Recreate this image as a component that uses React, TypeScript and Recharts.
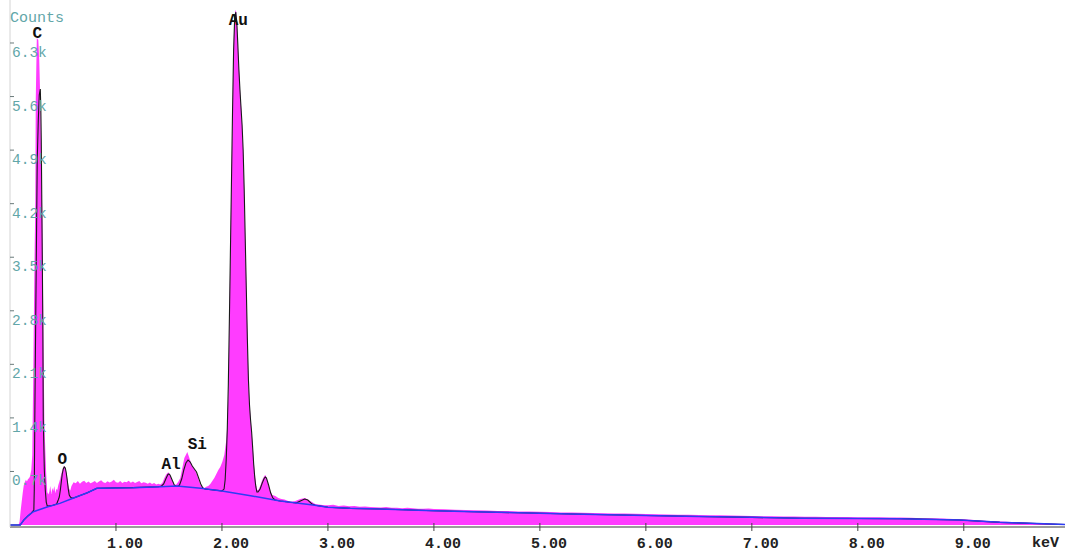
import React from 'react';
import { ComposedChart, Area, Line, XAxis, YAxis, ReferenceDot } from 'recharts';

// Raw spectrum (pink), [keV, counts]
const rawSpectrum: number[][] = [
  [0, 0], [0.08, 0], [0.09, 40], [0.1, 180], [0.11, 300], [0.12, 420], [0.13, 520], [0.14, 560],
  [0.15, 590], [0.16, 570], [0.17, 600], [0.18, 610], [0.19, 640], [0.201, 719], [0.21, 915],
  [0.22, 2026], [0.229, 3202], [0.239, 4248], [0.243, 5555], [0.253, 6365], [0.267, 6339],
  [0.276, 6078], [0.286, 5555], [0.295, 4771], [0.305, 3986], [0.314, 2679], [0.324, 1372],
  [0.333, 980], [0.342, 654], [0.352, 430], [0.361, 400], [0.371, 431], [0.38, 510], [0.39, 405],
  [0.399, 484], [0.408, 444], [0.418, 510], [0.427, 418], [0.437, 470], [0.446, 457], [0.456, 523],
  [0.465, 562], [0.475, 614], [0.484, 667], [0.493, 719], [0.503, 758], [0.512, 771], [0.522, 745],
  [0.531, 693], [0.541, 614], [0.55, 523], [0.559, 470], [0.569, 450], [0.58, 510], [0.6, 560],
  [0.62, 545], [0.64, 575], [0.66, 540], [0.68, 565], [0.7, 580], [0.72, 550], [0.74, 570],
  [0.76, 545], [0.78, 560], [0.8, 575], [0.82, 550], [0.84, 570], [0.86, 585], [0.88, 560],
  [0.9, 548], [0.92, 572], [0.94, 555], [0.96, 568], [0.98, 590], [1.0, 560], [1.02, 552],
  [1.04, 575], [1.06, 548], [1.08, 566], [1.1, 558], [1.12, 580], [1.14, 552], [1.16, 570],
  [1.18, 548], [1.2, 562], [1.22, 575], [1.24, 545], [1.26, 560], [1.28, 552], [1.3, 540],
  [1.32, 556], [1.34, 535], [1.36, 548], [1.38, 528], [1.4, 540], [1.418, 530], [1.437, 550],
  [1.456, 610], [1.474, 660], [1.494, 690], [1.513, 645], [1.531, 575], [1.55, 525], [1.569, 530],
  [1.588, 565], [1.607, 614], [1.626, 745], [1.645, 876], [1.664, 928], [1.673, 954], [1.683, 915],
  [1.702, 836], [1.72, 771], [1.739, 732], [1.758, 680], [1.777, 601], [1.796, 530], [1.815, 495],
  [1.834, 485], [1.852, 500], [1.871, 510], [1.89, 536], [1.909, 575], [1.928, 614], [1.947, 667],
  [1.966, 719], [1.984, 758], [2.003, 823], [2.022, 915], [2.041, 1111], [2.05, 1307], [2.06, 1699],
  [2.069, 2549], [2.079, 3594], [2.088, 4378], [2.098, 5163], [2.107, 6078], [2.116, 6574],
  [2.126, 6731], [2.135, 6705], [2.145, 6470], [2.154, 6143], [2.164, 5882], [2.173, 5620],
  [2.183, 5424], [2.192, 5163], [2.202, 4836], [2.211, 4313], [2.221, 3660], [2.23, 3137],
  [2.239, 2549], [2.249, 1961], [2.258, 1634], [2.268, 1438], [2.277, 1268], [2.286, 1111],
  [2.296, 915], [2.305, 745], [2.315, 614], [2.324, 510], [2.333, 457], [2.343, 457], [2.361, 510],
  [2.38, 588], [2.4, 640], [2.409, 654], [2.418, 627], [2.437, 536], [2.456, 444], [2.475, 392],
  [2.504, 379], [2.532, 353], [2.561, 340], [2.59, 335], [2.62, 318], [2.645, 300], [2.692, 314],
  [2.739, 340], [2.785, 353], [2.833, 314], [2.88, 274], [2.927, 265], [2.975, 258],
  [3.0, 258], [3.05, 264], [3.1, 250], [3.15, 254], [3.2, 245], [3.25, 249], [3.3, 238], [3.35, 243],
  [3.4, 236], [3.45, 233], [3.5, 230], [3.55, 234], [3.6, 227], [3.65, 225], [3.7, 220], [3.75, 224],
  [3.8, 219], [3.85, 214], [3.9, 212], [3.95, 215], [4.0, 208], [4.1, 205], [4.2, 199], [4.3, 197],
  [4.4, 192], [4.5, 190], [4.6, 184], [4.7, 183], [4.8, 178], [4.9, 176], [5.0, 172], [5.1, 170],
  [5.2, 165], [5.3, 164], [5.4, 160], [5.5, 157], [5.6, 155], [5.7, 151], [5.8, 150], [5.9, 146],
  [6.0, 144], [6.1, 140], [6.2, 139], [6.3, 135], [6.4, 134], [6.5, 130], [6.6, 128], [6.7, 126],
  [6.8, 123], [6.9, 121], [7.0, 118], [7.1, 116], [7.2, 114], [7.3, 112], [7.4, 110], [7.5, 108],
  [7.6, 107], [7.7, 106], [7.8, 106], [7.9, 104], [8.0, 103], [8.1, 102], [8.2, 101], [8.3, 99],
  [8.4, 97], [8.5, 94], [8.6, 90], [8.7, 87], [8.8, 84], [8.9, 80], [9.0, 74], [9.1, 66], [9.2, 57],
  [9.3, 48], [9.4, 41], [9.5, 35], [9.6, 28], [9.7, 22], [9.8, 17], [9.9, 12], [9.955, 8],
];

// Fitted spectrum (black), [keV, counts]
const fitSpectrum: number[][] = [
  [0, 0], [0.097, 0], [0.13, 65], [0.17, 120], [0.2, 155], [0.225, 196], [0.229, 457], [0.234, 1372],
  [0.239, 2157], [0.248, 3464], [0.257, 4771], [0.267, 5293], [0.276, 5620], [0.286, 5699],
  [0.291, 5424], [0.295, 5032], [0.3, 4248], [0.305, 3464], [0.31, 2549], [0.314, 1372],
  [0.324, 719], [0.333, 457], [0.342, 300], [0.352, 248], [0.4, 255], [0.44, 275], [0.455, 327],
  [0.465, 366], [0.475, 457], [0.484, 562], [0.493, 667], [0.503, 732], [0.512, 758], [0.522, 745],
  [0.531, 680], [0.541, 575], [0.55, 470], [0.559, 392], [0.569, 366], [0.58, 353], [0.6, 353],
  [0.73, 422], [0.82, 479], [1.0, 485], [1.16, 488], [1.4, 500], [1.43, 510], [1.45, 536],
  [1.47, 601], [1.49, 660], [1.5, 667], [1.51, 654], [1.53, 588], [1.55, 523], [1.57, 503],
  [1.59, 510], [1.6, 523], [1.62, 601], [1.64, 719], [1.66, 810], [1.68, 850], [1.7, 823],
  [1.72, 771], [1.74, 732], [1.76, 693], [1.78, 614], [1.8, 536], [1.82, 484], [1.84, 470],
  [1.9, 461], [2.0, 447], [2.02, 470], [2.03, 588], [2.04, 850], [2.05, 1242], [2.06, 1830],
  [2.07, 2679], [2.08, 3594], [2.09, 4509], [2.1, 5424], [2.11, 6208], [2.12, 6626], [2.13, 6705],
  [2.14, 6574], [2.15, 6274], [2.16, 5947], [2.17, 5686], [2.18, 5450], [2.19, 5228], [2.2, 4901],
  [2.21, 4378], [2.22, 3725], [2.23, 3071], [2.24, 2418], [2.25, 1895], [2.26, 1568], [2.27, 1372],
  [2.28, 1216], [2.29, 1006], [2.3, 784], [2.31, 614], [2.32, 497], [2.33, 431], [2.34, 431],
  [2.36, 470], [2.38, 549], [2.4, 614], [2.41, 627], [2.42, 614], [2.44, 523], [2.46, 418],
  [2.48, 353], [2.5, 327], [2.55, 314], [2.7, 288], [2.74, 314], [2.78, 340], [2.81, 327],
  [2.85, 274], [2.88, 258], [3.0, 233], [3.21, 218], [3.49, 209], [4.0, 187], [4.47, 170],
  [5.0, 153], [5.29, 144], [6.0, 125], [6.5, 112], [7.0, 100], [7.46, 88], [8.0, 86], [8.4, 83],
  [8.96, 65], [9.34, 35], [9.955, 7],
];

// Background (blue), [keV, counts]
const backgroundLine: number[][] = [
  [0, 0], [0.097, 0], [0.13, 65], [0.17, 120], [0.22, 174], [0.35, 235], [0.47, 283], [0.6, 353],
  [0.73, 422], [0.82, 479], [1.0, 485], [1.16, 488], [1.42, 501], [1.575, 510], [1.8, 479],
  [2.0, 444], [2.27, 383], [2.55, 314], [2.86, 261], [3.0, 233], [3.21, 218], [3.49, 209],
  [4.0, 187], [4.47, 170], [5.0, 153], [5.29, 144], [6.0, 125], [6.5, 112], [7.0, 100],
  [7.46, 88], [8.0, 86], [8.4, 83], [8.96, 65], [9.34, 35], [9.955, 7],
];

const yTicks = [700, 1400, 2100, 2800, 3500, 4200, 4900, 5600, 6300];
const yTickLabels = ['0.7k', '1.4k', '2.1k', '2.8k', '3.5k', '4.2k', '4.9k', '5.6k', '6.3k'];
const xTicks = [1, 2, 3, 4, 5, 6, 7, 8, 9];
const xTickLabels = ['1.00', '2.00', '3.00', '4.00', '5.00', '6.00', '7.00', '8.00', '9.00'];

const peakNames = ['C', 'O', 'Al', 'Si', 'Au'];
const peakLabelKeV = [0.258, 0.493, 1.52, 1.767, 2.154];
const peakLabelCounts = [6417, 856, 784, 1046, 6590];

const toRows = (pairs: number[][]) => pairs.map(([k, c]) => ({ k, c }));
const rawData = toRows(rawSpectrum);
const fitData = toRows(fitSpectrum);
const bgData = toRows(backgroundLine);

const MONO = '"Liberation Mono", "Courier New", monospace';
const TEAL = '#62a6a8';

const YTick = (props: any) => {
  const { x, y, payload } = props;
  const idx = yTicks.indexOf(payload.value);
  return (
    <g>
      <line x1={x} y1={y} x2={x + 4} y2={y} stroke="#6a7a7a" strokeWidth={1} />
      <text x={x + 2} y={y + 10} fill={TEAL} fontSize={14.5} fontFamily={MONO} dominantBaseline="central" textAnchor="start">
        {idx >= 0 ? yTickLabels[idx] : ''}
      </text>
    </g>
  );
};

const XTick = (props: any) => {
  const { x, y, payload } = props;
  const idx = xTicks.indexOf(payload.value);
  return (
    <g>
      <line x1={x} y1={y - 4} x2={x} y2={y + 4} stroke="#444" strokeWidth={1} />
      <text x={x + 9} y={y + 17} fill="#222" fontSize={15} fontWeight="bold" fontFamily={MONO} dominantBaseline="central" textAnchor="middle">
        {idx >= 0 ? xTickLabels[idx] : ''}
      </text>
    </g>
  );
};

const PeakLabel = (name: string) => (props: any) => (
  <text x={props.cx} y={props.cy} fill="#111" fontSize={16} fontWeight="bold" fontFamily={MONO} textAnchor="middle" dominantBaseline="central">
    {name}
  </text>
);

export default function App() {
  return (
    <div style={{ position: 'absolute', left: 0, top: 0, width: 1065, height: 555, background: '#fff' }}>
      <ComposedChart width={1065} height={555} margin={{ top: 0, right: 0, bottom: 0, left: 0 }}>
        <XAxis
          dataKey="k"
          type="number"
          domain={[0, 9.955]}
          ticks={xTicks}
          interval={0}
          height={28}
          tickSize={0}
          tickMargin={0}
          axisLine={{ stroke: '#9c9c9c', strokeWidth: 2 }}
          tickLine={false}
          tick={<XTick />}
          allowDataOverflow
        />
        <YAxis
          type="number"
          domain={[-26, 6862]}
          ticks={yTicks}
          interval={0}
          width={10}
          tickSize={0}
          tickMargin={0}
          axisLine={{ stroke: '#d4d4d4' }}
          tickLine={false}
          tick={<YTick />}
          allowDataOverflow
        />
        <Area data={rawData} dataKey="c" type="linear" stroke="none" fill="#ff3cff" fillOpacity={1} isAnimationActive={false} />
        <Line data={fitData} dataKey="c" type="linear" stroke="#1a1a1a" strokeWidth={1.1} dot={false} isAnimationActive={false} />
        <Line data={bgData} dataKey="c" type="linear" stroke="#2e3cf5" strokeWidth={1.5} dot={false} isAnimationActive={false} />
        {peakNames.map((n, i) => (
          <ReferenceDot key={n} x={peakLabelKeV[i]} y={peakLabelCounts[i]} r={0} ifOverflow="visible" shape={PeakLabel(n)} />
        ))}
      </ComposedChart>
      <div style={{ position: 'absolute', left: 10, top: 13, fontFamily: MONO, fontSize: 15, lineHeight: '11px', color: TEAL }}>Counts</div>
      <div style={{ position: 'absolute', left: 1032, top: 536, fontFamily: MONO, fontSize: 15, lineHeight: '15px', fontWeight: 'bold', color: '#222' }}>keV</div>
    </div>
  );
}
